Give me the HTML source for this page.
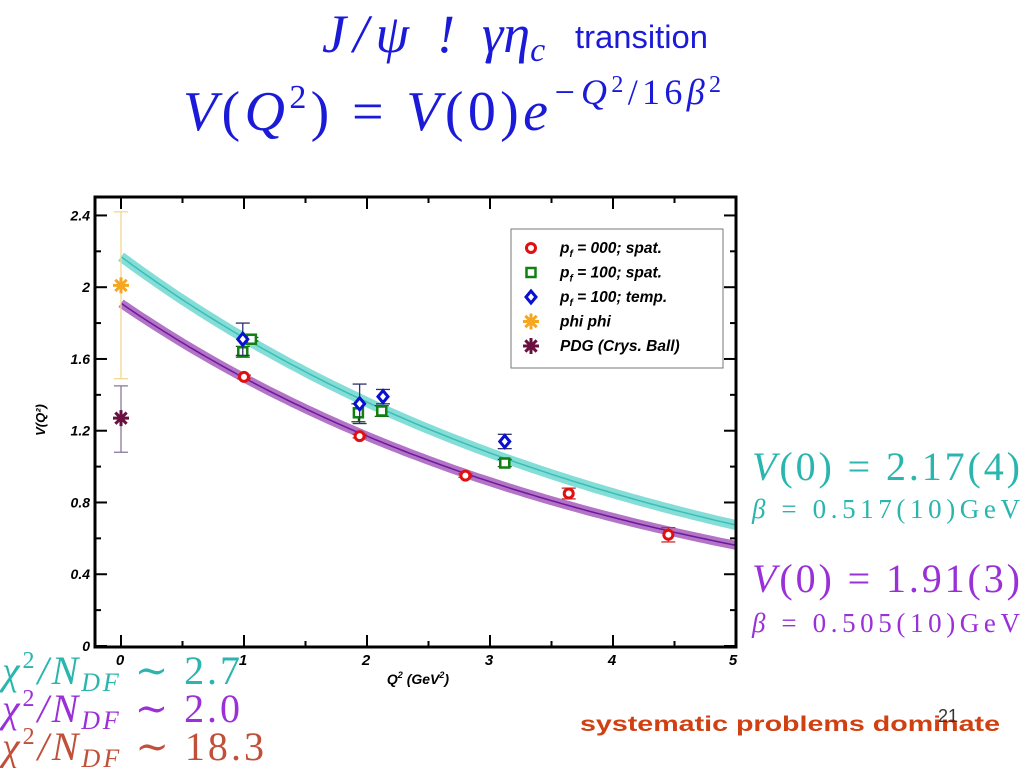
<!DOCTYPE html>
<html><head><meta charset="utf-8"><style>
body{margin:0;background:#fff;width:1024px;height:768px;overflow:hidden}
svg text{font-family:"Liberation Sans",sans-serif}
.m{font-family:"Liberation Serif","DejaVu Serif",serif}
</style></head><body>
<svg id="c" width="1024" height="768" xmlns="http://www.w3.org/2000/svg">
<text x="322" y="52" class="m" font-size="54" font-style="italic" fill="#1a1ad8" textLength="133" lengthAdjust="spacing">J/ψ !</text>
<text x="482" y="52" class="m" font-size="54" font-style="italic" fill="#1a1ad8">γη<tspan font-size="34" dy="9">c</tspan></text>
<text x="575" y="48" font-size="32" fill="#1a1ad8" textLength="133" lengthAdjust="spacingAndGlyphs">transition</text>
<text x="183" y="130" class="m" font-size="56" fill="#1a1ad8" textLength="538" lengthAdjust="spacing"><tspan font-style="italic">V</tspan>(<tspan font-style="italic">Q</tspan><tspan font-size="34" dy="-22">2</tspan><tspan dy="22">) = </tspan><tspan font-style="italic">V</tspan>(0)<tspan font-style="italic">e</tspan><tspan font-size="36" font-style="italic" dy="-26">−Q</tspan><tspan font-size="24" dy="-12">2</tspan><tspan font-size="36" dy="12">/16</tspan><tspan font-size="36" font-style="italic">β</tspan><tspan font-size="24" dy="-12">2</tspan></text>
<g id="plot"></g>
<text x="752" y="480" class="m" font-size="40" fill="#2ab5ae" textLength="268" lengthAdjust="spacing"><tspan font-style="italic">V</tspan>(0) = 2.17(4)</text>
<text x="752" y="518" class="m" font-size="27" fill="#2ab5ae" textLength="268" lengthAdjust="spacing"><tspan font-style="italic">β</tspan> = 0.517(10)GeV</text>
<text x="752" y="592" class="m" font-size="40" fill="#9a30d8" textLength="268" lengthAdjust="spacing"><tspan font-style="italic">V</tspan>(0) = 1.91(3)</text>
<text x="752" y="632" class="m" font-size="27" fill="#9a30d8" textLength="268" lengthAdjust="spacing"><tspan font-style="italic">β</tspan> = 0.505(10)GeV</text>
<text x="2" y="684" class="m" font-size="40" fill="#2ab5ae" textLength="238" lengthAdjust="spacing"><tspan font-style="italic">χ</tspan><tspan font-size="24" dy="-16">2</tspan><tspan dy="16" font-style="italic">/N</tspan><tspan font-size="26" font-style="italic" dy="7">DF</tspan><tspan dy="-7"> ∼ 2.7</tspan></text>
<text x="2" y="722" class="m" font-size="40" fill="#9a30d8" textLength="238" lengthAdjust="spacing"><tspan font-style="italic">χ</tspan><tspan font-size="24" dy="-16">2</tspan><tspan dy="16" font-style="italic">/N</tspan><tspan font-size="26" font-style="italic" dy="7">DF</tspan><tspan dy="-7"> ∼ 2.0</tspan></text>
<text x="2" y="760" class="m" font-size="40" fill="#c0503a" textLength="262" lengthAdjust="spacing"><tspan font-style="italic">χ</tspan><tspan font-size="24" dy="-16">2</tspan><tspan dy="16" font-style="italic">/N</tspan><tspan font-size="26" font-style="italic" dy="7">DF</tspan><tspan dy="-7"> ∼ 18.3</tspan></text>
<text x="580" y="731" font-size="21" font-weight="bold" fill="#d04010" textLength="420" lengthAdjust="spacingAndGlyphs">systematic problems dominate</text>
<text x="938" y="722" font-size="18" fill="#333">21</text>
</svg>
<script>
const xTicks=[0,1,2,3,4,5];
const yTicks=[0,0.4,0.8,1.2,1.6,2.0,2.4];
const yTickLabels=["0","0.4","0.8","1.2","1.6","2","2.4"];
const fitCyan=[2.17,0.517];
const fitPurple=[1.91,0.505];
const redX=[1.0,1.94,2.8,3.64,4.45];
const redY=[1.50,1.17,0.95,0.85,0.62];
const redE=[0.01,0.01,0.01,0.03,0.04];
const greenX=[0.99,1.06,1.93,2.12,3.12];
const greenY=[1.64,1.71,1.30,1.31,1.02];
const greenE=[0.03,0.01,0.05,0.03,0.02];
const blueX=[0.99,1.94,2.13,3.12];
const blueY=[1.71,1.35,1.39,1.14];
const blueE=[0.09,0.11,0.04,0.04];
const phiY=[2.01],phiLo=[1.49],phiHi=[2.42];
const pdgY=[1.27],pdgLo=[1.08],pdgHi=[1.45];
const L=95,R=736,T=197,B=647;
const X=v=>121+v*123, Y=v=>646-v*179.4;
const NS="http://www.w3.org/2000/svg",g=document.getElementById('plot');
function mk(t,a,p){const e=document.createElementNS(NS,t);for(const k in a)e.setAttribute(k,a[k]);(p||g).appendChild(e);return e;}
function curve(f,col,w,op,name){let d="";for(let i=0;i<=100;i++){const q=5*i/100;d+=(i?"L":"M")+X(q).toFixed(1)+","+Y(f[0]*Math.exp(-q/(16*f[1]*f[1]))).toFixed(1);}
const e=mk('path',{d:d,fill:'none',stroke:col,'stroke-width':w,opacity:op});

}
curve(fitCyan,'#6fd8d0',10,0.85,'cyan-fit-band');curve(fitCyan,'#3cbdb5',1.5,1,'cyan-fit-line');
curve(fitPurple,'#a050b8',9,0.8,'purple-fit-band');curve(fitPurple,'#6a1a9a',1.5,1,'purple-fit-line');
const fr=mk('rect',{x:L,y:T,width:R-L,height:B-T,fill:'none',stroke:'#000','stroke-width':3});


xTicks.forEach((v,i)=>{const x=X(v);
mk('line',{x1:x,y1:B,x2:x,y2:B-12,stroke:'#000','stroke-width':2});mk('line',{x1:x,y1:T,x2:x,y2:T+12,stroke:'#000','stroke-width':2});
if(i<5){const h=X(v+0.5);mk('line',{x1:h,y1:B,x2:h,y2:B-6,stroke:'#000','stroke-width':2});mk('line',{x1:h,y1:T,x2:h,y2:T+6,stroke:'#000','stroke-width':2});}
const t=mk('text',{x:x-(v==5?3:1),y:B+18,'font-size':15,'font-weight':'bold','font-style':'italic','text-anchor':'middle'});t.textContent=v;

});
yTicks.forEach((v,i)=>{const y=Y(v);
mk('line',{x1:L,y1:y,x2:L+12,y2:y,stroke:'#000','stroke-width':2});mk('line',{x1:R,y1:y,x2:R-12,y2:y,stroke:'#000','stroke-width':2});
if(i<6){const h=Y(v+0.2);mk('line',{x1:L,y1:h,x2:L+6,y2:h,stroke:'#000','stroke-width':2});mk('line',{x1:R,y1:h,x2:R-6,y2:h,stroke:'#000','stroke-width':2});}
const t=mk('text',{x:L-5,y:y+5,'font-size':14,'font-weight':'bold','font-style':'italic','text-anchor':'end'});t.textContent=yTickLabels[i];

});
let t=mk('text',{x:418,y:684,'font-size':14,'font-weight':'bold','font-style':'italic','text-anchor':'middle'});t.innerHTML='Q<tspan font-size="9" dy="-6">2</tspan><tspan dy="6"> (GeV</tspan><tspan font-size="9" dy="-6">2</tspan><tspan dy="6">)</tspan>';


t=mk('text',{x:0,y:0,'font-size':13,'font-weight':'bold','font-style':'italic','text-anchor':'middle',transform:'translate(45,420) rotate(-90)'});t.textContent='V(Q²)';


function err(x,lo,hi,col){const a=X(x);mk('line',{x1:a,y1:Y(lo),x2:a,y2:Y(hi),stroke:col,'stroke-width':1.3});
[lo,hi].forEach(v=>mk('line',{x1:a-7,y1:Y(v),x2:a+7,y2:Y(v),stroke:col,'stroke-width':1.3}));}
function circ(x,y,p){return mk('circle',{cx:x,cy:y,r:4.5,fill:'#fff',stroke:'#e01010','stroke-width':3},p);}
function sq(x,y,p){return mk('rect',{x:x-4.5,y:y-4.5,width:9,height:9,fill:'#fff',stroke:'#108010','stroke-width':2.5},p);}
function dia(x,y,p){return mk('path',{d:`M${x},${y-6}L${x+5},${y}L${x},${y+6}L${x-5},${y}Z`,fill:'#fff',stroke:'#0a10d0','stroke-width':3},p);}
function star(x,y,col,p){let d="";for(let k=0;k<4;k++){const a=k*Math.PI/4;d+=`M${x-8*Math.cos(a)},${y-8*Math.sin(a)}L${x+8*Math.cos(a)},${y+8*Math.sin(a)}`;}return mk('path',{d:d,stroke:col,'stroke-width':3},p);}
err(0,phiLo[0],phiHi[0],'#f0d890');err(0,pdgLo[0],pdgHi[0],'#8a7a9a');
let e=star(X(0),Y(phiY[0]),'#f5a623');

e=star(X(0),Y(pdgY[0]),'#6a1040');

redX.forEach((x,i)=>{err(x,redY[i]-redE[i],redY[i]+redE[i],'#c03030');const e=circ(X(x),Y(redY[i]));

});
greenX.forEach((x,i)=>{err(x,greenY[i]-greenE[i],greenY[i]+greenE[i],'#205020');const e=sq(X(x),Y(greenY[i]));

});
blueX.forEach((x,i)=>{err(x,blueY[i]-blueE[i],blueY[i]+blueE[i],'#303070');const e=dia(X(x),Y(blueY[i]));

});
const lg=mk('g',{});

mk('rect',{x:511,y:229,width:212,height:139,fill:'#fff',stroke:'#777','stroke-width':1},lg);
const labs=['p<tspan font-size="10" dy="4">f</tspan><tspan dy="-4"> = 000; spat.</tspan>','p<tspan font-size="10" dy="4">f</tspan><tspan dy="-4"> = 100; spat.</tspan>','p<tspan font-size="10" dy="4">f</tspan><tspan dy="-4"> = 100; temp.</tspan>','phi phi','PDG (Crys. Ball)'];
labs.forEach((s,i)=>{const y=248+i*24.5;
if(i==0)circ(531,y,lg);if(i==1)sq(531,y,lg);if(i==2)dia(531,y,lg);if(i==3)star(531,y,'#f5a623',lg);if(i==4)star(531,y,'#6a1040',lg);
const tt=mk('text',{x:560,y:y+5,'font-size':15.5,'font-weight':'bold','font-style':'italic'},lg);tt.innerHTML=s;

});
</script>
</body></html>
